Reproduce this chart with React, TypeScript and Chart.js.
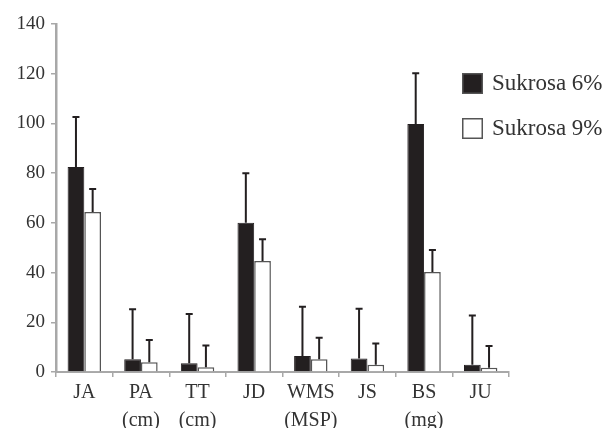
import React, { useEffect, useRef } from "react";
import { Chart, registerables } from "chart.js";

Chart.register(...registerables);

const categories: (string | string[])[] = [
  "JA",
  ["PA", "(cm)"],
  ["TT", "(cm)"],
  "JD",
  ["WMS", "(MSP)"],
  "JS",
  ["BS", "(mg)"],
  "JU",
];
const seriesLabels = ["Sukrosa 6%", "Sukrosa 9%"];
const sukrosa6 = [82.5, 5.1, 3.5, 60, 6.4, 5.4, 99.8, 2.9];
const sukrosa9 = [64.4, 3.9, 1.9, 44.7, 5.1, 2.9, 40.2, 1.7];
const sukrosa6Err = [20.1, 20.1, 19.8, 20, 19.8, 20, 20.4, 19.8];
const sukrosa9Err = [9.2, 9, 8.8, 8.7, 8.7, 8.6, 8.9, 8.8];
const yTicks = [0, 20, 40, 60, 80, 100, 120, 140];

const FONT = "'Liberation Serif', 'Times New Roman', serif";
const TEXT = "#333333";
const AXIS = "#a8a8a8";
const DARK = "#231f20";

const errorBarPlugin = {
  id: "errorBars",
  afterDatasetsDraw(chart: any) {
    const errs = [sukrosa6Err, sukrosa9Err];
    const vals = [sukrosa6, sukrosa9];
    const y = chart.scales.y;
    const ctx = chart.ctx;
    ctx.save();
    ctx.strokeStyle = DARK;
    ctx.lineWidth = 2;
    chart.data.datasets.forEach((_: any, i: number) => {
      const meta = chart.getDatasetMeta(i);
      meta.data.forEach((el: any, j: number) => {
        const x = el.x;
        const yb = y.getPixelForValue(vals[i][j]);
        const yt = y.getPixelForValue(vals[i][j] + errs[i][j]);
        ctx.beginPath();
        ctx.moveTo(x, yb);
        ctx.lineTo(x, yt);
        ctx.moveTo(x - 3.5, yt);
        ctx.lineTo(x + 3.5, yt);
        ctx.stroke();
      });
    });
    ctx.restore();
  },
};

const legendPlugin = {
  id: "customLegend",
  afterDraw(chart: any) {
    const ctx = chart.ctx;
    ctx.save();
    const x0 = 462;
    const tops = [73, 118];
    const size = 21;
    chart.data.datasets.forEach((ds: any, i: number) => {
      const t = tops[i];
      ctx.fillStyle = ds.backgroundColor;
      ctx.fillRect(x0, t, size, size);
      ctx.strokeStyle = "#555555";
      ctx.lineWidth = 1.5;
      ctx.strokeRect(x0 + 0.75, t + 0.75, size - 1.5, size - 1.5);
      ctx.fillStyle = TEXT;
      ctx.font = `23px ${FONT}`;
      ctx.textBaseline = "middle";
      ctx.textAlign = "left";
      ctx.fillText(ds.label, x0 + 30, t + size / 2 + 0.5);
    });
    ctx.restore();
  },
};

export default function App() {
  const ref = useRef<HTMLCanvasElement | null>(null);
  useEffect(() => {
    if (!ref.current) return;
    const chart = new Chart(ref.current, {
      type: "bar",
      data: {
        labels: categories as any,
        datasets: [
          {
            label: seriesLabels[0],
            data: sukrosa6,
            backgroundColor: DARK,
            borderColor: DARK,
            borderWidth: 1,
            categoryPercentage: 0.59,
            barPercentage: 1,
          },
          {
            label: seriesLabels[1],
            data: sukrosa9,
            backgroundColor: "#ffffff",
            borderColor: "#555555",
            borderWidth: 1.5,
            categoryPercentage: 0.59,
            barPercentage: 1,
          },
        ],
      },
      options: {
        animation: false,
        responsive: false,
        devicePixelRatio: 1,
        layout: { padding: { top: 24, right: 100, left: 0, bottom: 0 } },
        plugins: {
          legend: { display: false },
          tooltip: { enabled: false },
        },
        scales: {
          x: {
            offset: true,
            grid: {
              offset: true,
              drawOnChartArea: false,
              drawTicks: true,
              tickLength: 5,
              color: AXIS,
              lineWidth: 1.5,
            },
            border: { color: AXIS, width: 2 },
            ticks: {
              color: TEXT,
              font: { family: FONT, size: 20, lineHeight: 1.38 },
              padding: 2,
              maxRotation: 0,
              autoSkip: false,
            },
            afterFit(scale: any) {
              scale.height = 56;
            },
          },
          y: {
            min: 0,
            max: 140,
            afterBuildTicks(scale: any) {
              scale.ticks = yTicks.map((v) => ({ value: v }));
            },
            grid: {
              drawOnChartArea: false,
              drawTicks: true,
              tickLength: 5,
              color: AXIS,
              lineWidth: 1.5,
            },
            border: { color: AXIS, width: 2.5 },
            ticks: {
              color: TEXT,
              font: { family: FONT, size: 19 },
              padding: 6,
            },
            afterFit(scale: any) {
              scale.width = 56;
            },
          },
        },
      } as any,
      plugins: [errorBarPlugin, legendPlugin],
    });
    return () => chart.destroy();
  }, []);
  return (
    <div style={{ position: "fixed", left: 0, top: 0, width: 609, height: 428, background: "#ffffff" }}>
      <canvas ref={ref} width={609} height={428} style={{ width: 609, height: 428, display: "block" }} />
    </div>
  );
}
